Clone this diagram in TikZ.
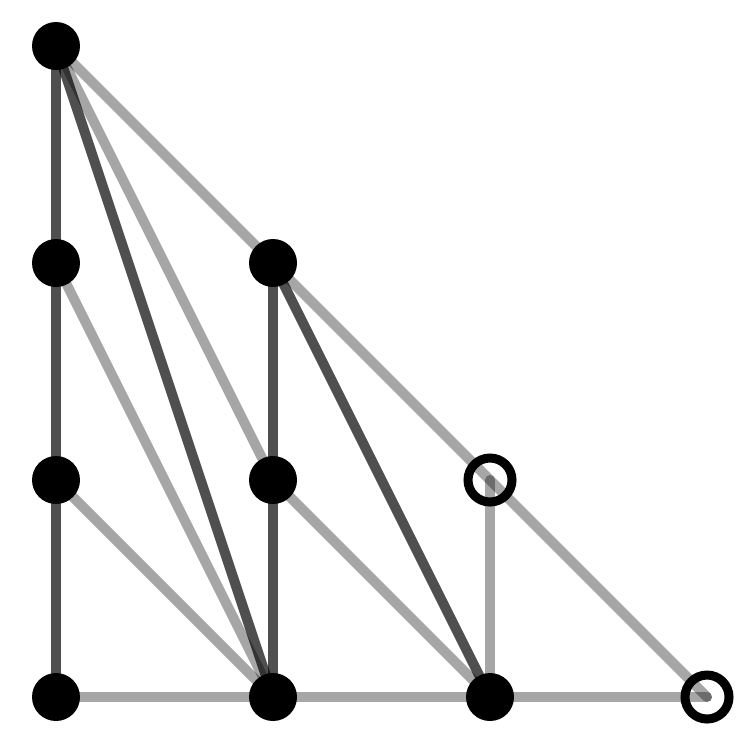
\documentclass[tikz,border=0pt]{standalone}
\usepackage{tikz}

\begin{document}
\begin{tikzpicture}[
			x=2.17cm, y=2.17cm,
			full/.style = {circle, fill=black, minimum size=0.48cm, inner sep=0pt},
			open/.style = {circle, draw=black, line width=0.09cm, minimum size=0.44cm, inner sep=0pt},
			pale/.style = {black, opacity=0.35, line width=0.1cm, line cap=round},
			dark/.style = {black, opacity=0.69, line width=0.1cm, line cap=round}
		]
		\useasboundingbox (-0.56cm,-0.41cm) rectangle (6.87cm,6.97cm);
		% Column 0.
		\coordinate (p03) at (0,3);
		\coordinate (p02) at (0,2);
		\coordinate (p01) at (0,1);
		\coordinate (p00) at (0,0);
		% Column 1.
		\coordinate (p12) at (1,2);
		\coordinate (p11) at (1,1);
		\coordinate (p10) at (1,0);
		% Column 2 and 3.
		\coordinate (p21) at (2,1);
		\coordinate (p20) at (2,0);
		\coordinate (p30) at (3,0);

		\draw[pale] (p03) -- (p12) -- (p21) -- (p30);
		\draw[pale] (p00) -- (p10) -- (p20) -- (p30);
		\draw[pale] (p03) to (p11);
		\draw[pale] (p02) to (p10);
		\draw[pale] (p01) to (p10);
		\draw[pale] (p11) to (p20);
		\draw[pale] (p21) to (p20);
		\draw[dark] (p03) to (p00);
		\draw[dark] (p03) to (p10);
		\draw[dark] (p12) to (p10);
		\draw[dark] (p12) to (p20);

		\node[full] (a03) at (p03) {};
		\node[full] (a02) at (p02) {};
		\node[full] (a01) at (p01) {};
		\node[full] (a00) at (p00) {};
		\node[full] (a12) at (p12) {};
		\node[full] (a11) at (p11) {};
		\node[full] (a10) at (p10) {};
		\node[full] (a20) at (p20) {};
		\node[open] (a21) at (p21) {};
		\node[open] (a30) at (p30) {};
	\end{tikzpicture}
\end{document}
